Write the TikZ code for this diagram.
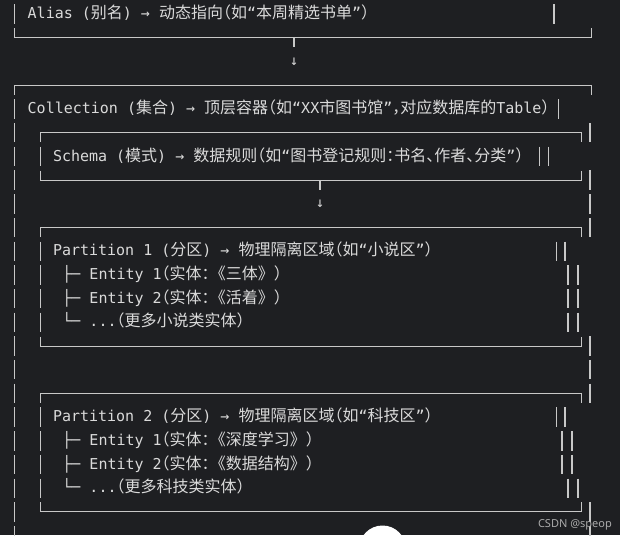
\documentclass[tikz,border=0pt]{standalone}
\usepackage{fontspec}
\setmonofont{DejaVu Sans Mono}
\newfontfamily\zhfont[RawFeature=+halt]{Noto Sans CJK SC}
\newfontfamily\zhwfont{Noto Sans CJK SC}
\newfontfamily\markfont{Noto Sans}
\newcommand{\zhtxt}[1]{{\zhfont\fontsize{16}{18}\selectfont #1}}
\newcommand{\zhwtxt}[1]{{\zhwfont\fontsize{16}{18}\selectfont #1}}
\definecolor{bgdark}{RGB}{30, 31, 34}
\definecolor{txtgray}{RGB}{218, 218, 218}
\definecolor{linegray}{RGB}{200, 200, 200}
\definecolor{markgray}{RGB}{170, 170, 170}
\usetikzlibrary{positioning}

\begin{document}
\begin{tikzpicture}[x=1pt, y=-1pt,
  rowtext/.style={anchor=base west, inner sep=0pt, text=txtgray, font=\ttfamily\fontsize{15}{18}\selectfont},
  downmark/.style={inner sep=0pt, text=txtgray, font=\ttfamily\fontsize{14}{14}\selectfont},
  rule/.style={draw=linegray, line width=0.9pt},
  bar/.style={draw=linegray, line width=1.2pt},
  barrun/.style={bar, dash pattern=on 19.4pt off 4.3pt}]
  \useasboundingbox (0,0) rectangle (620,535);
  \fill[bgdark] (0,0) rectangle (620,535);
  \begin{scope}
    \clip (0,0) rectangle (620,535);
    \fill[white] (382.5,549) circle (23.5);
  \end{scope}

  % Alias
  \node[rowtext] (alias) at (27.5,18.8) {Alias (\zhtxt{别名}) → \zhtxt{动态指向（如}“\zhtxt{本周精选书单}”\zhtxt{）}};
  \draw[bar] (14.6,4.5) -- (14.6,23.9);
  \draw[bar] (554,4.5) -- (554,23.9);
  \draw[rule] (14.6,28.4) -- (14.6,37.9) -- (591,37.9) -- (591,28.4);

  \coordinate (tickA) at (294,37.9);
  \draw[bar] (tickA) -- ++(0,9.5);
  \node[downmark] (downA) at (294,61.6) {↓};

  % Collection
  \draw[rule] (14.6,94.8) -- (14.6,85.3) -- (591,85.3) -- (591,94.8);
  \node[rowtext] (coll) at (27.5,113.6) {Collection (\zhtxt{集合}) → \zhtxt{顶层容器（如}“XX\zhtxt{市图书馆}”\zhtxt{，对应数据库的}Table\zhtxt{）}};
  \draw[bar] (558.5,99.3) -- (558.5,118.7);
  \draw[barrun] (14.6,99.3) -- (14.6,545.3);
  \draw[bar] (590,123) -- (590,142.4);
  \draw[barrun] (590,170.4) -- (590,237.2);
  \draw[barrun] (590,336.3) -- (590,403.1);
  \draw[barrun] (590,502.2) -- (590,545.3);

  % Schema
  \draw[rule] (40.7,142.2) -- (40.7,132.7) -- (581.8,132.7) -- (581.8,142.2);
  \node[rowtext] (schema) at (52.8,161.0) {Schema (\zhtxt{模式}) → \zhtxt{数据规则（如}“\zhtxt{图书登记规则：书名、作者、分类}”\zhtxt{）}};
  \draw[bar] (40.7,146.7) -- (40.7,166.1);
  \draw[bar] (539.5,146.7) -- (539.5,166.1);
  \draw[bar] (548.6,146.7) -- (548.6,166.1);
  \draw[rule] (40.7,170.6) -- (40.7,180.1) -- (581.8,180.1) -- (581.8,170.6);

  \coordinate (tickB) at (320,180.1);
  \draw[bar] (tickB) -- ++(0,9.5);
  \node[downmark] (downB) at (320,203.8) {↓};

  % Partition 1
  \draw[rule] (40.7,237) -- (40.7,227.5) -- (581.8,227.5) -- (581.8,237);
  \node[rowtext] (partA) at (52.8,255.8) {Partition 1 (\zhtxt{分区}) → \zhtxt{物理隔离区域（如}“\zhtxt{小说区}”\zhtxt{）}};
  \node[rowtext] (entA1) at (62.2,279.5) {├─ Entity 1\zhtxt{（}\zhwtxt{实体}\zhtxt{：}\zhwtxt{《三体》}\zhtxt{）}};
  \node[rowtext] (entA2) at (62.2,303.2) {├─ Entity 2\zhtxt{（}\zhwtxt{实体}\zhtxt{：}\zhwtxt{《活着》}\zhtxt{）}};
  \node[rowtext] (entA3) at (62.2,326.9) {└─ ...\zhtxt{（}\zhwtxt{更多小说类实体}\zhtxt{）}};
  \draw[barrun] (40.7,241.5) -- (40.7,332);
  \draw[bar] (556.5,241.5) -- (556.5,260.9);
  \draw[bar] (565,241.5) -- (565,260.9);
  \draw[barrun] (568,265.2) -- (568,332);
  \draw[barrun] (578,265.2) -- (578,332);
  \draw[rule] (40.7,336.5) -- (40.7,346) -- (581.8,346) -- (581.8,336.5);

  % Partition 2
  \draw[rule] (40.7,402.9) -- (40.7,393.4) -- (581.8,393.4) -- (581.8,402.9);
  \node[rowtext] (partB) at (52.8,421.7) {Partition 2 (\zhtxt{分区}) → \zhtxt{物理隔离区域（如}“\zhtxt{科技区}”\zhtxt{）}};
  \node[rowtext] (entB1) at (62.2,445.4) {├─ Entity 1\zhtxt{（}\zhwtxt{实体}\zhtxt{：}\zhwtxt{《深度学习》}\zhtxt{）}};
  \node[rowtext] (entB2) at (62.2,469.1) {├─ Entity 2\zhtxt{（}\zhwtxt{实体}\zhtxt{：}\zhwtxt{《数据结构》}\zhtxt{）}};
  \node[rowtext] (entB3) at (62.2,492.8) {└─ ...\zhtxt{（}\zhwtxt{更多科技类实体}\zhtxt{）}};
  \draw[barrun] (40.7,407.4) -- (40.7,497.9);
  \draw[bar] (556.5,407.4) -- (556.5,426.8);
  \draw[bar] (565,407.4) -- (565,426.8);
  \draw[barrun] (562,431.1) -- (562,474.2);
  \draw[barrun] (572,431.1) -- (572,474.2);
  \draw[bar] (568,478.5) -- (568,497.9);
  \draw[bar] (578,478.5) -- (578,497.9);
  \draw[rule] (40.7,502.4) -- (40.7,511.9) -- (581.8,511.9) -- (581.8,502.4);

  \node[anchor=base east, inner sep=0pt, text=markgray, font=\markfont\fontsize{11}{11}\selectfont] (mark) at (612,527) {CSDN @speop};
\end{tikzpicture}
\end{document}
